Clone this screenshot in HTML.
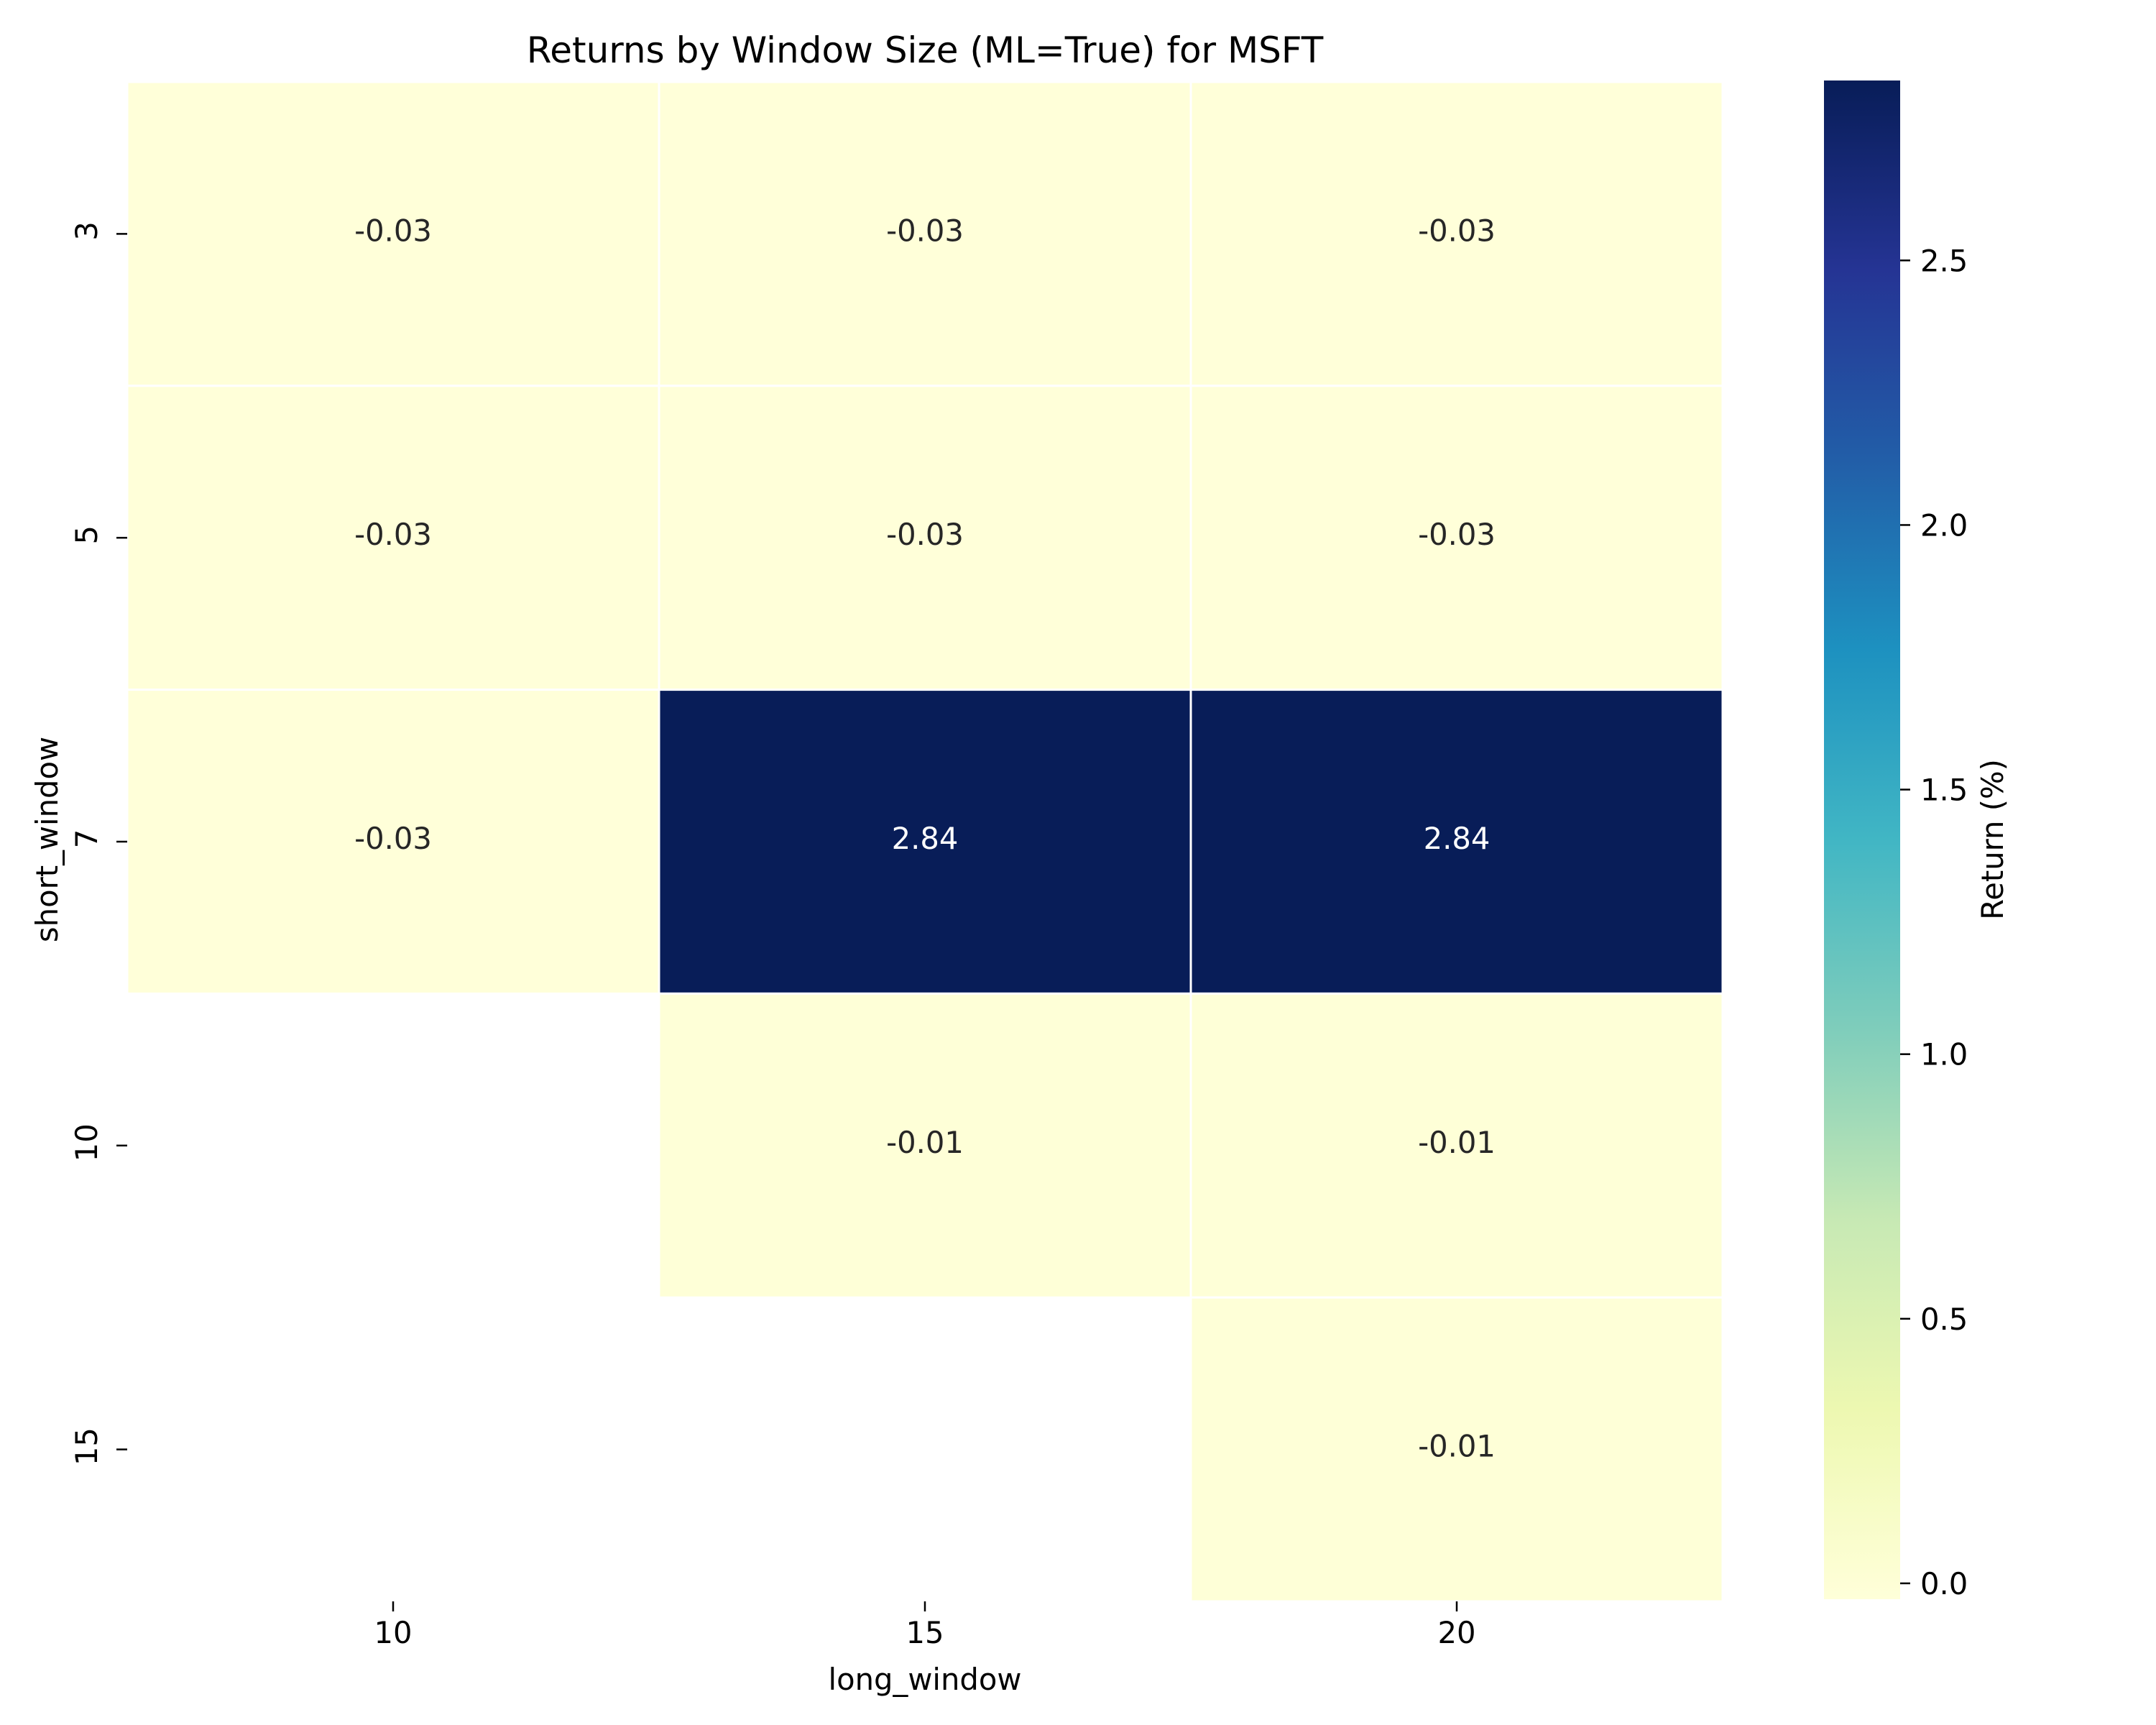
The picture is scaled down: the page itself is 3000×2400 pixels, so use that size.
<!DOCTYPE html>
<html><head><meta charset="utf-8"><style>
html,body{margin:0;padding:0;background:#fff;}
svg{display:block;font-family:"DejaVu Sans","Liberation Sans",sans-serif;}
</style></head><body>
<svg id="chart" width="3000" height="2400" viewBox="0 0 3000 2400" xmlns="http://www.w3.org/2000/svg">
<defs>
<linearGradient id="cbgrad" x1="0" y1="1" x2="0" y2="0">
<stop offset="0" stop-color="#ffffd9"/><stop offset="0.125" stop-color="#edf8b1"/>
<stop offset="0.25" stop-color="#c7e9b4"/><stop offset="0.375" stop-color="#7fcdbb"/>
<stop offset="0.5" stop-color="#41b6c4"/><stop offset="0.625" stop-color="#1d91c0"/>
<stop offset="0.75" stop-color="#225ea8"/><stop offset="0.875" stop-color="#253494"/>
<stop offset="1" stop-color="#081d58"/>
</linearGradient>
</defs>
<text x="1287" y="87" font-size="50" text-anchor="middle" fill="#000">Returns by Window Size (ML=True) for MSFT</text>
<g id="cells"></g>
<g id="axes"></g>
<g id="cbar"></g>
</svg>
<script>
const longWindows = [10, 15, 20];
const shortWindows = [3, 5, 7, 10, 15];
// values[row][col], null = missing
const row3 = [-0.03, -0.03, -0.03];
const row5 = [-0.03, -0.03, -0.03];
const row7 = [-0.03, 2.84, 2.84];
const row10 = [null, -0.01, -0.01];
const row15 = [null, null, -0.01];
const values = [row3, row5, row7, row10, row15];
const vmin = -0.03, vmax = 2.84;
const cbTicks = [0.0, 0.5, 1.0, 1.5, 2.0, 2.5];

const NS = "http://www.w3.org/2000/svg";
const FS = 41.7;
const L = 177, R = 2397, T = 114, B = 2228;
const cw = (R - L) / longWindows.length, rh = (B - T) / shortWindows.length;
const xCol = i => L + i * cw;
const yRow = j => T + j * rh;
const CB = {x: 2538, w: 106, top: 112, bot: 2225};
const yCb = v => CB.bot - (v - vmin) / (vmax - vmin) * (CB.bot - CB.top);

const stops = [[0,[255,255,217]],[0.125,[237,248,177]],[0.25,[199,233,180]],[0.375,[127,205,187]],[0.5,[65,182,196]],[0.625,[29,145,192]],[0.75,[34,94,168]],[0.875,[37,52,148]],[1,[8,29,88]]];
function cmap(v){
  let t = Math.max(0, Math.min(1, (v - vmin) / (vmax - vmin)));
  for (let k = 0; k < stops.length - 1; k++) {
    const [a, ca] = stops[k], [b, cb] = stops[k+1];
    if (t <= b) { const f = (t - a) / (b - a); const c = ca.map((x, i) => Math.round(x + (cb[i] - x) * f)); return {c: `rgb(${c.join(',')})`, lum: (0.299*c[0]+0.587*c[1]+0.114*c[2])}; }
  }
  return {c: "rgb(8,29,88)", lum: 30};
}
function mk(tag, attrs, parent, text){
  const e = document.createElementNS(NS, tag);
  for (const k in attrs) e.setAttribute(k, attrs[k]);
  if (text !== undefined) e.textContent = text;
  parent.appendChild(e); return e;
}
const cells = document.getElementById('cells');
values.forEach((row, j) => row.forEach((v, i) => {
  if (v === null) return;
  const col = cmap(v);
  const r = mk('rect', {x: xCol(i), y: yRow(j), width: cw, height: rh, fill: col.c, stroke: '#fff', 'stroke-width': 3}, cells);
  
  
  const t = mk('text', {x: xCol(i) + cw/2, y: yRow(j) + rh/2 + 10, 'font-size': FS, 'text-anchor': 'middle', fill: col.lum < 128 ? '#fff' : '#262626'}, cells, v.toFixed(2));
  
  
}));
const axes = document.getElementById('axes');
longWindows.forEach((lw, i) => {
  const cx = xCol(i) + cw/2;
  mk('line', {x1: cx, x2: cx, y1: B, y2: B + 14, stroke: '#000', 'stroke-width': 2.5}, axes);
  const t = mk('text', {x: cx, y: B + 58, 'font-size': FS, 'text-anchor': 'middle', fill: '#000'}, axes, String(lw));
  
  
});
shortWindows.forEach((sw, j) => {
  const cy = yRow(j) + rh/2;
  mk('line', {x1: L - 15, x2: L, y1: cy, y2: cy, stroke: '#000', 'stroke-width': 2.5}, axes);
  const t = mk('text', {x: 0, y: 0, 'font-size': FS, 'text-anchor': 'middle', fill: '#000', transform: `translate(135,${cy - 4}) rotate(-90)`}, axes, String(sw));
  
  
});
let xl = mk('text', {x: 1287, y: 2351, 'font-size': FS, 'text-anchor': 'middle', fill: '#000'}, axes, 'long_window');


let yl = mk('text', {x: 0, y: 0, 'font-size': FS, 'text-anchor': 'middle', fill: '#000', transform: `translate(80,1168) rotate(-90)`}, axes, 'short_window');



const cbar = document.getElementById('cbar');
const cr = mk('rect', {x: CB.x, y: CB.top, width: CB.w, height: CB.bot - CB.top, fill: 'url(#cbgrad)'}, cbar);


cbTicks.forEach(v => {
  const y = yCb(v);
  mk('line', {x1: CB.x + CB.w, x2: CB.x + CB.w + 14, y1: y, y2: y, stroke: '#000', 'stroke-width': 2.5}, cbar);
  const t = mk('text', {x: CB.x + CB.w + 28, y: y + 15, 'font-size': FS, fill: '#000'}, cbar, v.toFixed(1));
  
  
});
let cl = mk('text', {x: 0, y: 0, 'font-size': FS, 'text-anchor': 'middle', fill: '#000', transform: `translate(2787,1168) rotate(-90)`}, cbar, 'Return (%)');


</script>
</body></html>
